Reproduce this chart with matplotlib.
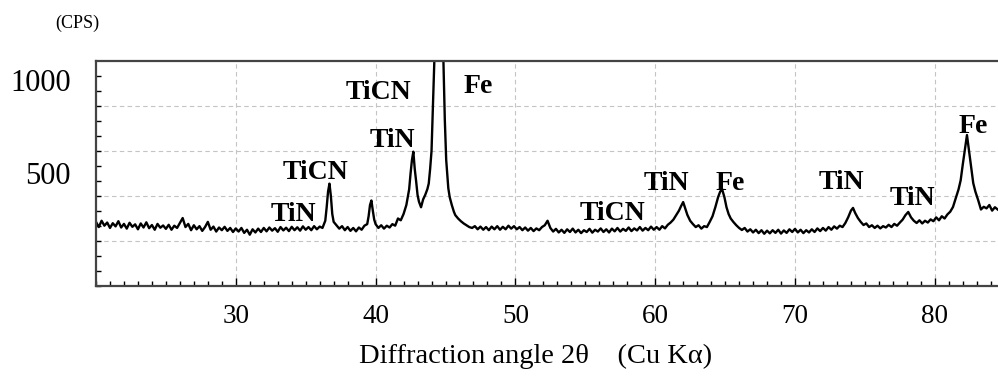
import matplotlib.pyplot as plt
import matplotlib.transforms as mtransforms
from matplotlib.ticker import MultipleLocator

# XRD scan (2theta in degrees, intensity in CPS)
two_theta = [
    20.0, 20.2, 20.4, 20.6, 20.8, 21.0, 21.2, 21.4, 21.6, 21.8,
    22.0, 22.2, 22.4, 22.6, 22.8, 23.0, 23.2, 23.4, 23.6, 23.8,
    24.0, 24.2, 24.4, 24.6, 24.8, 25.0, 25.2, 25.4, 25.6, 25.8,
    26.0, 26.2, 26.4, 26.6, 26.8, 27.0, 27.2, 27.4, 27.6, 27.8,
    28.0, 28.2, 28.4, 28.6, 28.8, 29.0, 29.2, 29.4, 29.6, 29.8,
    30.0, 30.2, 30.4, 30.6, 30.8, 31.0, 31.2, 31.4, 31.6, 31.8,
    32.0, 32.2, 32.4, 32.6, 32.8, 33.0, 33.2, 33.4, 33.6, 33.8,
    34.0, 34.2, 34.4, 34.6, 34.8, 35.0, 35.2, 35.4, 35.6, 35.8,
    36.0, 36.2, 36.4, 36.5, 36.6, 36.7, 36.8, 36.9, 37.0, 37.2,
    37.4, 37.6, 37.8, 38.0, 38.2, 38.4, 38.6, 38.8, 39.0, 39.2,
    39.4, 39.5, 39.6, 39.7, 39.8, 39.9, 40.0, 40.2, 40.4, 40.6,
    40.8, 41.0, 41.2, 41.4, 41.6, 41.8, 42.0, 42.2, 42.4, 42.5,
    42.6, 42.7, 42.8, 42.9, 43.0, 43.1, 43.25, 43.4, 43.55, 43.7,
    43.8, 43.9, 44.0, 44.1, 44.2, 44.4, 44.55, 44.7, 44.85, 44.95,
    45.05, 45.2, 45.3, 45.45, 45.6, 45.7, 45.9, 46.1, 46.3, 46.5,
    46.7, 46.9, 47.1, 47.3, 47.5, 47.7, 47.9, 48.1, 48.3, 48.5,
    48.7, 48.9, 49.1, 49.3, 49.5, 49.7, 49.9, 50.1, 50.3, 50.5,
    50.7, 50.9, 51.1, 51.3, 51.5, 51.7, 51.9, 52.1, 52.3, 52.5,
    52.7, 52.9, 53.1, 53.3, 53.5, 53.7, 53.9, 54.1, 54.3, 54.5,
    54.7, 54.9, 55.1, 55.3, 55.5, 55.7, 55.9, 56.1, 56.3, 56.5,
    56.7, 56.9, 57.1, 57.3, 57.5, 57.7, 57.9, 58.1, 58.3, 58.5,
    58.7, 58.9, 59.1, 59.3, 59.5, 59.7, 59.9, 60.1, 60.3, 60.5,
    60.7, 60.9, 61.1, 61.3, 61.5, 61.7, 61.85, 62.0, 62.15, 62.3,
    62.5, 62.7, 62.9, 63.1, 63.3, 63.5, 63.7, 63.9, 64.1, 64.3,
    64.5, 64.65, 64.8, 64.95, 65.1, 65.25, 65.4, 65.6, 65.8, 66.0,
    66.2, 66.4, 66.6, 66.8, 67.0, 67.2, 67.4, 67.6, 67.8, 68.0,
    68.2, 68.4, 68.6, 68.8, 69.0, 69.2, 69.4, 69.6, 69.8, 70.0,
    70.2, 70.4, 70.6, 70.8, 71.0, 71.2, 71.4, 71.6, 71.8, 72.0,
    72.2, 72.4, 72.6, 72.8, 73.0, 73.2, 73.4, 73.6, 73.8, 74.0,
    74.15, 74.3, 74.5, 74.7, 74.9, 75.1, 75.3, 75.5, 75.7, 75.9,
    76.1, 76.3, 76.5, 76.7, 76.9, 77.1, 77.3, 77.5, 77.7, 77.9,
    78.1, 78.3, 78.5, 78.7, 78.9, 79.1, 79.3, 79.5, 79.7, 79.9,
    80.1, 80.3, 80.5, 80.7, 80.9, 81.1, 81.3, 81.5, 81.7, 81.85,
    82.0, 82.15, 82.3, 82.45, 82.6, 82.75, 82.9, 83.1, 83.3, 83.5,
    83.7, 83.9, 84.1, 84.3, 84.5,
]
cps = [
    285, 262, 290, 268, 282, 258, 279, 265, 288, 260,
    276, 255, 281, 263, 274, 252, 278, 260, 283, 257,
    271, 250, 276, 259, 269, 254, 272, 250, 268, 258,
    280, 302, 262, 276, 248, 270, 252, 266, 245, 262,
    285, 250, 264, 242, 260, 248, 263, 245, 258, 240,
    256, 242, 258, 236, 250, 228, 252, 238, 255, 240,
    258, 243, 260, 246, 257, 241, 262, 247, 259, 244,
    263, 248, 261, 246, 265, 250, 262, 248, 266, 252,
    264, 258, 290, 350, 420, 455, 400, 320, 285, 270,
    255, 266, 248, 262, 245, 258, 243, 260, 250, 268,
    275, 310, 360, 380, 335, 295, 275, 258, 270, 255,
    268, 260, 275, 268, 300, 292, 320, 360, 430, 500,
    560, 597, 520, 465, 405, 375, 350, 385, 405, 430,
    455, 520, 600, 800, 990, 1400, 1650, 1400, 1000, 740,
    560, 435, 395, 360, 330, 315, 300, 288, 278, 270,
    262, 258, 266, 252, 264, 250, 262, 248, 264, 252,
    266, 250, 263, 252, 268, 255, 266, 252, 262, 248,
    260, 246, 258, 244, 256, 248, 262, 270, 290, 258,
    242, 254, 238, 250, 236, 252, 240, 255, 238, 250,
    235, 248, 240, 254, 237, 250, 242, 256, 240, 252,
    238, 255, 243, 258, 242, 254, 245, 260, 244, 256,
    247, 262, 246, 258, 248, 264, 250, 262, 250, 266,
    256, 272, 282, 295, 315, 335, 355, 373, 345, 316,
    290, 275, 262, 270, 255, 266, 262, 285, 310, 350,
    395, 420, 427, 395, 350, 320, 300, 284, 270, 258,
    249, 258, 242, 252, 238, 250, 235, 248, 232, 246,
    234, 248, 236, 250, 233, 247, 236, 252, 240, 254,
    238, 250, 235, 248, 238, 252, 240, 256, 244, 258,
    246, 262, 250, 265, 255, 268, 262, 280, 305, 335,
    347, 325, 302, 285, 271, 278, 262, 270, 258, 268,
    256, 266, 260, 272, 262, 276, 268, 282, 295, 315,
    329, 305, 290, 280, 292, 278, 290, 282, 296, 288,
    305, 292, 310, 300, 318, 330, 351, 390, 430, 470,
    540, 604, 671, 600, 530, 457, 420, 382, 340, 352,
    345, 360, 335, 350, 340,
]

# phase labels written over the peaks
phase_names = ['TiN', 'TiCN', 'TiN', 'TiCN', 'Fe', 'TiCN', 'TiN', 'Fe', 'TiN', 'TiN', 'Fe']
phase_x = [34.09, 35.67, 41.17, 40.24, 47.32, 56.91, 60.77, 65.35, 73.29, 78.37, 82.73]
phase_y = [289, 476, 618, 831, 858, 293, 427, 427, 431, 360, 680]

x_ticks = [30, 40, 50, 60, 70, 80]
y_ticks = [500, 1000]
y_grid = [200, 400, 600, 800]

plt.rcParams['font.family'] = ['Liberation Serif', 'DejaVu Serif']

fig = plt.figure(figsize=(9.98, 3.76), dpi=100)
ax = fig.add_axes([96 / 998, 90 / 376, 902 / 998, 225 / 376])

ax.plot(two_theta, cps, color='black', lw=1.7)

ax.set_xlim(20, 84.52)
ax.set_ylim(0, 1000)

# dashed grid
ax.set_xticks(x_ticks)
ax.grid(axis='x', which='major', color='#c4c4c4', ls=(0, (4, 3)), lw=0.8)
for g in y_grid:
    ax.axhline(g, color='#c4c4c4', ls=(0, (4, 3)), lw=0.8, zorder=0)

ax.xaxis.set_minor_locator(MultipleLocator(1))
ax.yaxis.set_minor_locator(MultipleLocator(200 / 3))
ax.tick_params(axis='x', which='major', direction='in', length=6, width=1,
               labelsize=19.5, pad=13)
ax.tick_params(axis='x', which='minor', direction='in', length=3.5, width=1)
ax.tick_params(axis='y', which='minor', direction='in', length=3.5, width=1)

ax.set_yticks(y_ticks)
ax.set_yticklabels([str(v) for v in y_ticks])
ax.tick_params(axis='y', which='major', length=0, labelsize=22, pad=18)
# the "1000" label sits a bit below the top edge in the original
top_lab = ax.get_yticklabels()[1]
top_lab.set_transform(top_lab.get_transform() +
                      mtransforms.ScaledTranslation(0, -19 / 100, fig.dpi_scale_trans))

for side in ['left', 'bottom', 'top']:
    ax.spines[side].set_color('#444444')
    ax.spines[side].set_linewidth(1.6)
ax.spines['right'].set_visible(False)

for name, px, py in zip(phase_names, phase_x, phase_y):
    ax.text(px, py, name, ha='center', va='baseline', fontsize=20,
            fontweight='bold')

ax.set_xlabel('Diffraction angle 2\u03b8    (Cu K\u03b1)', fontsize=20.5)
ax.xaxis.set_label_coords(0.487, -0.255)
ax.xaxis.label.set_va('top')

fig.text(55 / 998, 1 - 23 / 376, '(CPS)', ha='left', va='center', fontsize=13)

fig.savefig('out.png', dpi=100)
